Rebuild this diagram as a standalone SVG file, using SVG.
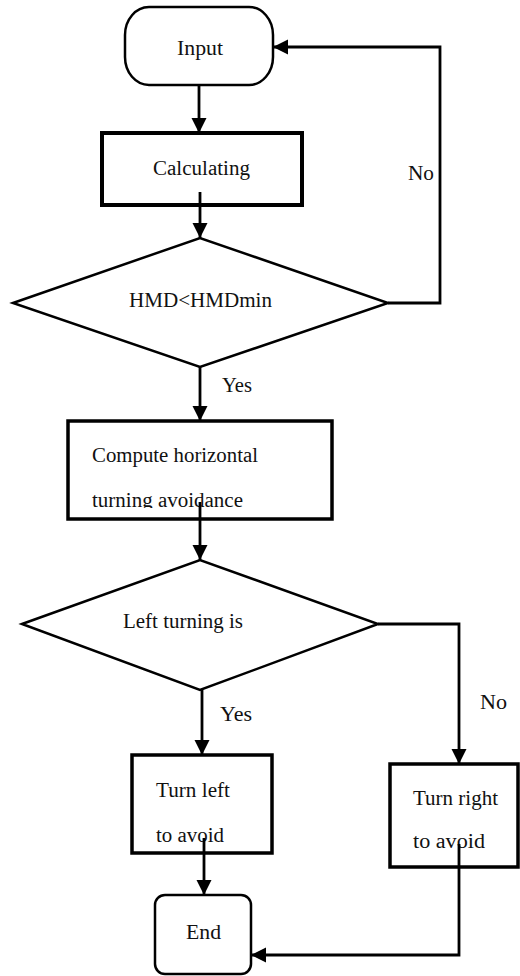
<svg xmlns="http://www.w3.org/2000/svg" width="520" height="976" viewBox="0 0 520 976" font-family="'Liberation Serif', 'Times New Roman', 'DejaVu Serif', serif">
<style>
text{font-family:'Liberation Serif','Times New Roman','DejaVu Serif',serif;font-size:20px;fill:#111}
.shape{fill:#fff;stroke:#000}
.conn path{fill:none;stroke:#000;stroke-width:2.8}
</style>
<defs>
<marker id="ah" markerUnits="userSpaceOnUse" markerWidth="16" markerHeight="16" viewBox="0 0 16 16" refX="15" refY="7.5" orient="auto">
<path d="M0,0 L15,7.5 L0,15 z" fill="#000"/>
</marker>
<clipPath id="c1"><rect x="60" y="415" width="280" height="93"/></clipPath>
<clipPath id="c2"><rect x="125" y="750" width="150" height="94"/></clipPath>
</defs>
<rect width="520" height="976" fill="#fff"/>

<g id="input">
<rect class="shape" x="125" y="7" width="148" height="78" rx="24" ry="28" stroke-width="2.5"/>
<text x="177" y="55" textLength="46" lengthAdjust="spacingAndGlyphs">Input</text>
</g>
<g id="calculating">
<rect class="shape" x="102" y="133" width="200" height="72" stroke-width="4"/>
<text x="153" y="175" textLength="97" lengthAdjust="spacingAndGlyphs">Calculating</text>
</g>
<g id="decision1">
<polygon class="shape" points="13,303 200,238 388,303 200,367" stroke-width="2.5"/>
<text x="129" y="307" textLength="143" lengthAdjust="spacingAndGlyphs">HMD&lt;HMDmin</text>
</g>
<g id="compute">
<rect class="shape" x="68" y="421" width="264" height="98" stroke-width="3.5"/>
<text x="92" y="462" textLength="166" lengthAdjust="spacingAndGlyphs">Compute horizontal</text>
<text x="92" y="507" textLength="151" lengthAdjust="spacingAndGlyphs" clip-path="url(#c1)">turning avoidance</text>
</g>
<g id="decision2">
<polygon class="shape" points="22,624 200,560 378,624 200,690" stroke-width="2.5"/>
<text x="123" y="628" textLength="120" lengthAdjust="spacingAndGlyphs">Left turning is</text>
</g>
<g id="turnleft">
<rect class="shape" x="132" y="755" width="140" height="98" stroke-width="3.5"/>
<text x="156" y="797" textLength="74" lengthAdjust="spacingAndGlyphs">Turn left</text>
<text x="156" y="842" textLength="68" lengthAdjust="spacingAndGlyphs" clip-path="url(#c2)">to avoid</text>
</g>
<g id="turnright">
<rect class="shape" x="390" y="764" width="128" height="103" stroke-width="3.5"/>
<text x="413" y="805" textLength="85" lengthAdjust="spacingAndGlyphs">Turn right</text>
<text x="413" y="848" textLength="72" lengthAdjust="spacingAndGlyphs">to avoid</text>
</g>
<g id="end">
<rect class="shape" x="155" y="895" width="96" height="79" rx="10" stroke-width="2.5"/>
<text x="186" y="939" textLength="35" lengthAdjust="spacingAndGlyphs">End</text>
</g>

<g id="connectors" class="conn">
<path d="M199,85 L199,133" marker-end="url(#ah)"/>
<path d="M200,192 L200,238" marker-end="url(#ah)"/>
<path d="M388,303 L440,303 L440,47 L273,47" marker-end="url(#ah)" stroke-width="2"/>
<path d="M200,367 L200,421" marker-end="url(#ah)"/>
<path d="M200,502 L200,560" marker-end="url(#ah)"/>
<path d="M378,624 L459,624 L459,764" marker-end="url(#ah)"/>
<path d="M202,690 L202,755" marker-end="url(#ah)"/>
<path d="M204,838 L204,895" marker-end="url(#ah)"/>
<path d="M459,844 L459,955 L251,955" marker-end="url(#ah)"/>
</g>
<g id="labels">
<text x="408" y="180" textLength="26" lengthAdjust="spacingAndGlyphs">No</text>
<text x="222" y="392" textLength="30" lengthAdjust="spacingAndGlyphs">Yes</text>
<text x="480" y="709" textLength="27" lengthAdjust="spacingAndGlyphs">No</text>
<text x="220" y="721" textLength="32" lengthAdjust="spacingAndGlyphs">Yes</text>
</g>
</svg>
